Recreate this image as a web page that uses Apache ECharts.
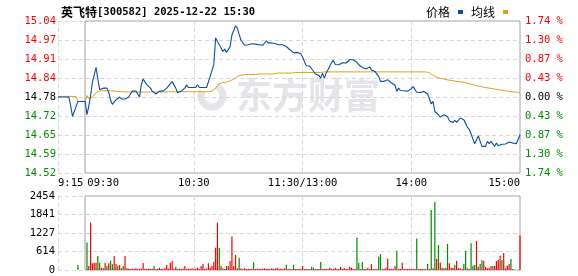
<!DOCTYPE html>
<html><head><meta charset="utf-8">
<script src="https://cdn.jsdelivr.net/npm/echarts@6/dist/echarts.min.js"></script>
<style>html,body{margin:0;padding:0;background:#fff}#c{width:578px;height:276px}</style>
</head><body><div id="c"></div>
<script>
const stockName = '英飞特', stockCode = '300582', stamp = '2025-12-22 15:30';
const prevClose = 14.78;
const pctLimit = 1.74;
const volMax = 2454;
const xTickIndex = [0, 15, 75, 135, 195, 255];
const xTickText = ['9:15', '09:30', '10:30', '11:30/13:00', '14:00', '15:00'];
const xGridIndex = [0, 75, 135, 195];

// 9:15 - 9:29 call auction
const preMarketPrice = [14.78,14.78,14.78,14.78,14.78,14.78,14.78,14.75,14.714,14.731,14.735,14.765,14.765,14.765,14.765];
const preMarketAvg = [14.782,14.782,14.782,14.782,14.782,14.782,14.782,14.782,14.782,14.782,14.782,14.765,14.765,14.765,14.765];
const preMarketVol = [0,0,0,0,0,0,0,0,0,0,0,166,0,0,0];
const preMarketDir = [1,1,1,1,1,1,1,1,1,1,1,-1,1,1,1];

// 9:30 - 15:00 (241 minutes)
const price = [
14.765,14.72,14.75,14.785,14.83,14.855,14.88,14.84,14.805,14.81,
14.81,14.81,14.81,14.795,14.77,14.755,14.755,14.77,14.765,14.78,
14.773,14.777,14.773,14.777,14.78,14.79,14.80,14.80,14.80,14.80,
14.78,14.822,14.841,14.84,14.822,14.82,14.81,14.80,14.80,14.79,
14.785,14.80,14.795,14.80,14.80,14.81,14.818,14.825,14.832,14.831,
14.81,14.794,14.80,14.80,14.80,14.81,14.821,14.812,14.812,14.812,
14.812,14.812,14.821,14.812,14.812,14.812,14.812,14.812,14.812,14.85,
14.87,14.89,14.98,14.968,14.957,14.946,14.934,14.942,14.931,14.929,
14.95,14.99,15.005,15.021,15.013,14.991,14.972,14.968,14.955,14.96,
14.957,14.957,14.96,14.96,14.959,14.955,14.957,14.957,14.955,14.962,
14.97,14.963,14.963,14.963,14.963,14.96,14.957,14.957,14.962,14.957,
14.955,14.951,14.948,14.94,14.94,14.93,14.926,14.931,14.931,14.926,
14.915,14.909,14.886,14.884,14.884,14.884,14.867,14.858,14.863,14.853,
14.844,14.861,14.844,14.861,14.872,14.884,14.897,14.904,14.89,14.884,
14.889,14.893,14.896,14.897,14.895,14.90,14.906,14.904,14.906,14.906,
14.897,14.889,14.885,14.88,14.876,14.875,14.88,14.882,14.871,14.871,
14.866,14.861,14.85,14.833,14.833,14.833,14.834,14.838,14.835,14.828,
14.827,14.82,14.799,14.81,14.802,14.807,14.801,14.805,14.80,14.80,
14.808,14.815,14.812,14.796,14.796,14.795,14.792,14.799,14.797,14.79,
14.784,14.757,14.765,14.731,14.726,14.72,14.712,14.718,14.72,14.717,
14.714,14.70,14.696,14.694,14.701,14.694,14.697,14.709,14.712,14.703,
14.69,14.677,14.67,14.655,14.638,14.622,14.635,14.649,14.63,14.613,
14.611,14.613,14.63,14.622,14.63,14.63,14.613,14.624,14.615,14.612,
14.62,14.621,14.621,14.622,14.628,14.632,14.624,14.622,14.622,14.624,
14.652];

const avgPrice = [
14.765,14.785,14.775,14.77,14.78,14.785,14.795,14.80,14.801,14.801,
14.801,14.801,14.801,14.801,14.801,14.80,14.80,14.80,14.799,14.799,
14.798,14.797,14.797,14.797,14.797,14.797,14.797,14.797,14.797,14.797,
14.797,14.797,14.797,14.797,14.797,14.797,14.797,14.797,14.797,14.797,
14.797,14.797,14.797,14.797,14.797,14.797,14.798,14.798,14.798,14.798,
14.798,14.798,14.798,14.798,14.798,14.798,14.798,14.798,14.798,14.798,
14.798,14.798,14.798,14.798,14.798,14.798,14.798,14.798,14.798,14.798,
14.80,14.805,14.81,14.818,14.825,14.828,14.829,14.829,14.83,14.832,
14.835,14.837,14.84,14.845,14.849,14.852,14.854,14.856,14.856,14.856,
14.856,14.856,14.856,14.856,14.856,14.856,14.858,14.858,14.858,14.858,
14.858,14.858,14.858,14.858,14.858,14.858,14.861,14.861,14.861,14.861,
14.861,14.861,14.861,14.861,14.861,14.861,14.863,14.863,14.863,14.863,
14.863,14.863,14.863,14.863,14.863,14.863,14.863,14.863,14.863,14.863,
14.863,14.865,14.865,14.865,14.865,14.865,14.865,14.865,14.865,14.865,
14.865,14.865,14.865,14.865,14.865,14.865,14.865,14.865,14.865,14.865,
14.865,14.865,14.865,14.865,14.865,14.865,14.865,14.865,14.865,14.865,
14.865,14.865,14.865,14.865,14.865,14.865,14.865,14.865,14.865,14.865,
14.865,14.865,14.865,14.865,14.865,14.865,14.865,14.865,14.865,14.865,
14.865,14.865,14.865,14.865,14.865,14.865,14.865,14.865,14.865,14.864,
14.862,14.857,14.853,14.85,14.847,14.845,14.843,14.842,14.841,14.84,
14.838,14.836,14.836,14.835,14.834,14.833,14.832,14.832,14.831,14.829,
14.828,14.826,14.825,14.823,14.822,14.82,14.818,14.817,14.816,14.814,
14.813,14.812,14.811,14.81,14.809,14.808,14.807,14.806,14.805,14.804,
14.803,14.802,14.801,14.80,14.799,14.798,14.797,14.797,14.797,14.797,
14.794];

const volume = [
0,908,133,1572,221,243,243,465,243,77,
55,243,133,221,310,188,465,199,144,166,
55,133,465,55,44,33,44,33,55,44,
33,44,232,44,33,44,33,44,133,33,
44,77,33,44,55,166,44,243,299,44,
100,33,44,33,44,133,33,44,33,55,
33,44,77,33,133,199,33,44,221,77,
133,277,742,1572,742,133,55,33,133,133,
299,1107,133,498,55,410,55,33,55,33,
44,33,44,254,33,44,33,33,44,55,
33,44,33,55,33,44,77,33,44,33,
55,166,33,44,22,166,33,33,33,33,
133,33,33,33,33,110,77,33,33,33,
266,33,33,33,33,77,33,33,77,33,
33,110,33,55,33,33,110,77,33,33,
1074,243,33,266,33,33,77,33,199,33,
33,33,443,531,33,33,77,376,33,33,
33,133,642,33,33,243,33,33,33,33,
33,33,33,1041,33,33,33,33,33,210,
33,1993,55,2258,376,830,243,77,55,77,
863,221,77,77,166,299,55,55,33,199,
631,55,33,886,144,166,963,110,199,332,
299,99,55,77,133,133,133,299,332,476,
332,564,55,144,199,365,33,0,0,0,
1140];

const volDir = [
1,-1,1,1,1,1,1,-1,-1,1,
1,1,-1,1,-1,-1,1,1,-1,1,
1,-1,1,1,1,1,1,1,1,1,
1,1,1,1,1,1,1,1,-1,-1,
1,1,1,1,1,1,1,1,1,1,
-1,1,1,1,1,1,1,1,1,1,
1,1,1,1,1,1,1,1,1,1,
1,1,1,1,-1,1,-1,1,1,-1,
1,1,1,1,-1,-1,1,-1,1,1,
1,1,1,-1,1,1,1,1,1,1,
1,1,1,1,1,1,1,1,1,1,
1,-1,1,1,-1,-1,1,1,1,1,
1,-1,1,1,1,-1,-1,1,1,1,
-1,1,1,1,1,1,1,1,1,1,
1,1,1,1,1,1,1,1,1,1,
-1,-1,1,-1,1,1,-1,1,1,1,
1,1,-1,-1,1,1,1,1,1,1,
1,1,-1,1,-1,1,1,1,1,1,
1,1,1,-1,1,1,1,1,1,-1,
1,-1,1,-1,1,-1,1,1,1,-1,
-1,1,1,1,-1,1,1,1,1,-1,
-1,1,1,-1,-1,-1,1,1,-1,-1,
1,1,1,1,1,-1,1,1,1,1,
-1,1,1,1,1,-1,1,1,1,1,
1];

// minute categories: 9:15-9:29, 9:30-11:30, 13:01-15:00
const pad = n => (n < 10 ? '0' : '') + n;
const fmt = t => Math.floor(t / 60) + ':' + pad(t % 60);
const cats = [];
for (let t = 555; t < 570; t++) cats.push(fmt(t));
for (let t = 570; t <= 690; t++) cats.push(fmt(t));
for (let t = 781; t <= 900; t++) cats.push(fmt(t));

const allPrice = preMarketPrice.concat(price);
const allAvg = preMarketAvg.concat(avgPrice);
const allVol = preMarketVol.concat(volume);
const allDir = preMarketDir.concat(volDir);
const toPct = p => (p / prevClose - 1) * 100;

const RED = '#ff0000', GREEN = '#008c00', GRID = '#d6d6d6', BORDER = '#a0a0a0';
const MONO = 'DejaVu Sans Mono';
const CJK = 'Noto Sans CJK SC';
const dashed = { lineStyle: { color: GRID, type: [4, 3], width: 1 } };

const pctInterval = pctLimit / 4;
const signColor = v => { v = Number(v); return v > 1e-6 ? RED : (v < -1e-6 ? GREEN : '#000'); };

const chart = echarts.init(document.getElementById('c'));
chart.setOption({
  animation: false,
  backgroundColor: '#fff',
  title: {
    text: '{c|' + stockName + '}{a|[' + stockCode + '] ' + stamp + '}',
    left: 56, top: 1,
    textStyle: { rich: {
      c: { fontFamily: CJK, fontSize: 12, color: '#000' },
      a: { fontFamily: MONO, fontSize: 10.5, color: '#000' }
    } }
  },
  legend: {
    data: ['价格', '均线'], right: 65, top: 1, align: 'right',
    icon: 'rect', itemWidth: 5, itemHeight: 4, itemGap: 8,
    textStyle: { fontFamily: CJK, fontSize: 12, color: '#000', padding: [0, 3, 0, 0] }
  },
  graphic: [
    { type: 'arc', z: 0, silent: true,
      shape: { cx: 212, cy: 96, r: 11, startAngle: -1.2, endAngle: 3.6 },
      style: { stroke: '#e4e4e9', lineWidth: 7, fill: null } },
    { type: 'text', z: 0, silent: true, left: 236, top: 77,
      style: { text: '东方财富', font: 'bold 36px "Noto Sans CJK SC"', fill: '#e4e4e9' } }
  ],
  grid: [
    { left: 58, right: 58, top: 21, bottom: 103 },
    { left: 85, right: 58, top: 21, bottom: 103, show: true, borderColor: BORDER, borderWidth: 1, backgroundColor: 'transparent' },
    { left: 58, right: 58, top: 196, bottom: 6 },
    { left: 85, right: 58, top: 196, bottom: 6, show: true, borderColor: BORDER, borderWidth: 1, backgroundColor: 'transparent' }
  ],
  xAxis: [
    { type: 'category', gridIndex: 0, data: cats, boundaryGap: false,
      axisLine: { show: false }, axisTick: { show: false },
      axisLabel: {
        interval: (i) => xTickIndex.indexOf(i) >= 0,
        formatter: (v, i) => {
          const k = xTickIndex.indexOf(i);
          const t = k >= 0 ? xTickText[k] : v;
          return k === 1 ? '{s|' + t + '}' : t;
        },
        alignMinLabel: 'left', alignMaxLabel: 'right',
        margin: 5, fontFamily: MONO, fontSize: 10.5, color: '#000',
        rich: { s: { fontFamily: MONO, fontSize: 10.5, color: '#000', padding: [0, 0, 0, 36] } }
      },
      splitLine: Object.assign({ show: true, interval: (i) => xGridIndex.indexOf(i) >= 0 }, dashed)
    },
    { type: 'category', gridIndex: 1, show: false, data: ['a', 'b'] },
    { type: 'category', gridIndex: 2, data: cats, boundaryGap: false,
      axisLine: { show: false }, axisTick: { show: false }, axisLabel: { show: false },
      splitLine: Object.assign({ show: true, interval: (i) => xGridIndex.indexOf(i) >= 0 }, dashed)
    },
    { type: 'category', gridIndex: 3, show: false, data: ['a', 'b'] }
  ],
  yAxis: [
    { type: 'value', gridIndex: 0, position: 'left', min: -pctLimit, max: pctLimit, interval: pctInterval,
      axisLine: { show: false }, axisTick: { show: false },
      axisLabel: { margin: 2, fontFamily: MONO, fontSize: 10.5,
        formatter: v => (prevClose * (1 + v / 100)).toFixed(2), color: v => signColor(v) },
      splitLine: Object.assign({ show: true }, dashed) },
    { type: 'value', gridIndex: 0, position: 'right', min: -pctLimit, max: pctLimit, interval: pctInterval,
      axisLine: { show: false }, axisTick: { show: false },
      axisLabel: { margin: 5, fontFamily: MONO, fontSize: 10.5,
        formatter: v => Math.abs(v).toFixed(2) + ' %', color: v => signColor(v) },
      splitLine: { show: false } },
    { type: 'value', gridIndex: 1, show: false, min: 0, max: 1 },
    { type: 'value', gridIndex: 2, min: 0, max: volMax, interval: volMax / 4,
      axisLine: { show: false }, axisTick: { show: false },
      axisLabel: { margin: 3, fontFamily: MONO, fontSize: 10.5, color: '#000', formatter: v => String(Math.round(v)) },
      splitLine: Object.assign({ show: true }, dashed) },
    { type: 'value', gridIndex: 3, show: false, min: 0, max: 1 }
  ],
  series: [
    { name: '均线', type: 'line', xAxisIndex: 0, yAxisIndex: 0, data: allAvg.map(toPct),
      showSymbol: false, symbol: 'none', color: '#dca21c', lineStyle: { width: 1, color: '#dca21c' }, z: 3 },
    { name: '价格', type: 'line', xAxisIndex: 0, yAxisIndex: 0, data: allPrice.map(toPct),
      showSymbol: false, symbol: 'none', color: '#0b4ea2', lineStyle: { width: 1.1, color: '#0b4ea2' }, z: 4 },
    { name: '成交量', type: 'bar', xAxisIndex: 2, yAxisIndex: 3, data: allVol, barWidth: 1.2,
      itemStyle: { color: p => (allDir[p.dataIndex] > 0 ? RED : GREEN) } }
  ]
});
</script></body></html>
